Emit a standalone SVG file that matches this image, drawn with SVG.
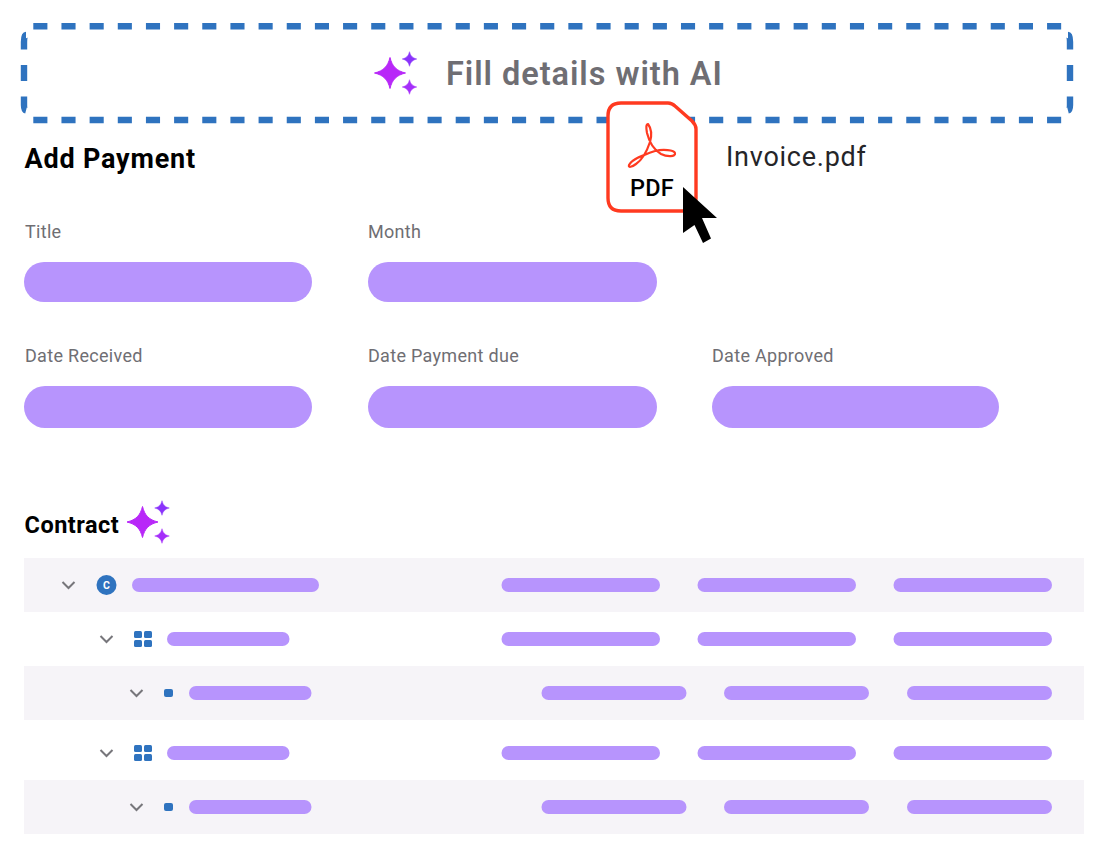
<svg xmlns="http://www.w3.org/2000/svg" width="1108" height="856" viewBox="0 0 1108 856">
<style>
text{font-family:Roboto,"Liberation Sans",sans-serif}
.lab{font-size:18px;fill:#6f6e73;letter-spacing:.3px}
.head{font-size:27px;font-weight:700;fill:#000;letter-spacing:.8px}
.pill{fill:#b794fd}
.row{fill:#f6f4f8}
.dash{fill:none;stroke:#2f73bf;stroke-width:6.400}
.chev{fill:none;stroke:#77767b;stroke-width:2}
.blue{fill:#2f73bf}
</style>
<defs>
<path id="star" d="M0-15.500C2.200-6.500 6.500-2.200 15.500 0C6.500 2.200 2.200 6.500 0 15.500C-2.200 6.500-6.500 2.200-15.500 0C-6.500-2.200-2.200-6.500 0-15.500Z" stroke-width="1" stroke-linejoin="round"/>
<g id="sparkle">
<use href="#star" fill="#b828f8" stroke="#b828f8"/>
<use href="#star" transform="translate(19.500,-14) scale(.47)" fill="#8a33fb" stroke="#8a33fb"/>
<use href="#star" transform="translate(19.500,14) scale(.47)" fill="#a52ffa" stroke="#a52ffa"/>
</g>
<path id="chevron" d="M-6-3L0 3L6-3"/>
<g id="grid"><rect x="0" y="0" width="8" height="7" rx="1.500"/><rect x="10" y="0" width="8" height="7" rx="1.500"/><rect x="0" y="9" width="8" height="7" rx="1.500"/><rect x="10" y="9" width="8" height="7" rx="1.500"/></g>
</defs>
<rect width="1108" height="856" fill="#fff"/>
<g id="dropzone">
<path class="dash" stroke-dasharray="14.100 14.060" d="M33.300 26.200H1062M33.300 120H1062"/>
<path class="dash" d="M24 49.500V42Q24 35 26 35M24 65V81M24 96.500V105Q24 110 26 110.500M1070 49.500V42Q1070 35 1068 35M1070 65V81M1070 96.500V105Q1070 110 1068 110.500"/>
<use href="#sparkle" x="390" y="73"/>
<text x="446" y="85" font-size="32.500" font-weight="600" letter-spacing=".95" fill="#6f6e73">Fill details with AI</text>
</g>
<g id="add-payment"><text class="head" x="24.500" y="168">Add Payment</text></g>
<g id="field-title"><text class="lab" x="25" y="238">Title</text><rect class="pill" x="24" y="262" width="288" height="40" rx="20"/></g>
<g id="field-month"><text class="lab" x="368" y="238">Month</text><rect class="pill" x="368" y="262" width="289" height="40" rx="20"/></g>
<g id="field-date-received"><text class="lab" x="25" y="362">Date Received</text><rect class="pill" x="24" y="386" width="288" height="42" rx="21"/></g>
<g id="field-date-due"><text class="lab" x="368" y="362">Date Payment due</text><rect class="pill" x="368" y="386" width="289" height="42" rx="21"/></g>
<g id="field-date-approved"><text class="lab" x="712" y="362">Date Approved</text><rect class="pill" x="712" y="386" width="287" height="42" rx="21"/></g>
<g id="pdf-file">
<path d="M621 103H668Q672 103 675 106L692 121Q696 125 696 129V198Q696 211 683 211H621Q608 211 608 198V116Q608 103 621 103Z" fill="#fff" stroke="#ff3a20" stroke-width="3.400"/>
<path d="M648 124C651 128 652 135 650 142C647 151 642 160 636 164C632 167 628 168 629 165C632 159 643 155 655 151C663 149 674 150 675 153C676 157 667 157 661 154C654 150 649 141 647 133C646 128 646 124 648 124Z" fill="none" stroke="#ff3a20" stroke-width="2.200" stroke-linejoin="round"/>
<text x="652" y="196" text-anchor="middle" font-size="23.500" font-weight="500" letter-spacing=".3" fill="#000">PDF</text>
</g>
<g id="invoice-label"><text x="726" y="165.500" font-size="27" letter-spacing=".75" fill="#252528">Invoice.pdf</text></g>
<g id="cursor"><path d="M683 187L717 218H702L711 238.500L703 243L694.500 225L683 233Z" fill="#000"/></g>
<g id="contract-title"><text class="head" x="24.500" y="532.500" style="font-size:23.500px;letter-spacing:.5px">Contract</text><use href="#sparkle" x="142.500" y="522"/></g>
<g id="row-1"><rect class="row" x="24" y="558" width="1060" height="54"/><use class="chev" href="#chevron" x="68.500" y="585"/><circle class="blue" cx="106.500" cy="585" r="10"/><text x="106.500" y="589" text-anchor="middle" font-size="10.500" font-weight="700" fill="#fff">C</text><rect class="pill" x="132" y="578" width="187" height="14" rx="7"/><rect class="pill" x="501.500" y="578" width="158.500" height="14" rx="7"/><rect class="pill" x="697.500" y="578" width="158.500" height="14" rx="7"/><rect class="pill" x="893.500" y="578" width="158.500" height="14" rx="7"/></g>
<g id="row-2"><use class="chev" href="#chevron" x="106.500" y="639"/><use class="blue" href="#grid" x="134" y="631"/><rect class="pill" x="167" y="632" width="122.500" height="14" rx="7"/><rect class="pill" x="501.500" y="632" width="158.500" height="14" rx="7"/><rect class="pill" x="697.500" y="632" width="158.500" height="14" rx="7"/><rect class="pill" x="893.500" y="632" width="158.500" height="14" rx="7"/></g>
<g id="row-3"><rect class="row" x="24" y="666" width="1060" height="54"/><use class="chev" href="#chevron" x="136.500" y="693"/><rect class="blue" x="164" y="689" width="9" height="8" rx="2"/><rect class="pill" x="189" y="686" width="122.500" height="14" rx="7"/><rect class="pill" x="541.500" y="686" width="145" height="14" rx="7"/><rect class="pill" x="724" y="686" width="145" height="14" rx="7"/><rect class="pill" x="907" y="686" width="145" height="14" rx="7"/></g>
<g id="row-4"><use class="chev" href="#chevron" x="106.500" y="753"/><use class="blue" href="#grid" x="134" y="745"/><rect class="pill" x="167" y="746" width="122.500" height="14" rx="7"/><rect class="pill" x="501.500" y="746" width="158.500" height="14" rx="7"/><rect class="pill" x="697.500" y="746" width="158.500" height="14" rx="7"/><rect class="pill" x="893.500" y="746" width="158.500" height="14" rx="7"/></g>
<g id="row-5"><rect class="row" x="24" y="780" width="1060" height="54"/><use class="chev" href="#chevron" x="136.500" y="807"/><rect class="blue" x="164" y="803" width="9" height="8" rx="2"/><rect class="pill" x="189" y="800" width="122.500" height="14" rx="7"/><rect class="pill" x="541.500" y="800" width="145" height="14" rx="7"/><rect class="pill" x="724" y="800" width="145" height="14" rx="7"/><rect class="pill" x="907" y="800" width="145" height="14" rx="7"/></g>
</svg>
